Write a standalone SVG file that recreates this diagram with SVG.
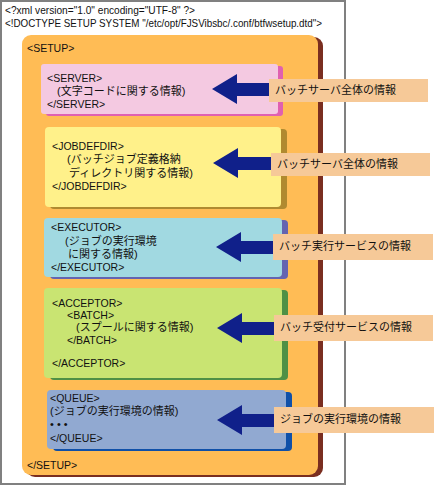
<svg xmlns="http://www.w3.org/2000/svg" xmlns:xlink="http://www.w3.org/1999/xlink" width="434" height="486" viewBox="0 0 434 486">
<style>
text{font-family:"Liberation Sans","Noto Sans CJK JP",sans-serif;font-size:11px;fill:#111}
.t{font-size:10.5px}
.lbl{fill:#F6C998}
.arrow{fill:#10208A}
</style>
<defs>
<path id="arr" d="M0,0 L25,-15 L25,-6 L60,-6 L60,7 L25,7 L25,15 Z"/>
</defs>
<rect x="1" y="1" width="344" height="483" fill="#fff" stroke="#808080" stroke-width="2"/>
<g id="header">
<text x="5" y="14" textLength="190" lengthAdjust="spacingAndGlyphs">&lt;?xml version="1.0" encoding="UTF-8" ?&gt;</text>
<text x="5" y="27" textLength="317" lengthAdjust="spacingAndGlyphs">&lt;!DOCTYPE SETUP SYSTEM "/etc/opt/FJSVibsbc/.conf/btfwsetup.dtd"&gt;</text>
</g>
<g id="setup">
<rect x="26" y="37" width="297" height="440" rx="9" fill="#7A2E20"/>
<rect x="22" y="35" width="296" height="440" rx="9" fill="#FFBC55"/>
<text class="t" x="27" y="52">&lt;SETUP&gt;</text>
<text class="t" x="27" y="469">&lt;/SETUP&gt;</text>
</g>
<g id="server">
<rect x="46" y="66" width="237" height="50" rx="3" fill="#E060B0"/>
<rect x="41" y="64" width="237" height="50" rx="3" fill="#F4C9E1"/>
<text class="t" x="47" y="82">&lt;SERVER&gt;</text>
<text x="57" y="95">(文字コードに関する情報)</text>
<text class="t" x="47" y="108">&lt;/SERVER&gt;</text>
</g>
<g id="jobdefdir">
<rect x="50" y="129" width="237" height="80" rx="4" fill="#B08A30"/>
<rect x="45" y="127" width="236" height="80" rx="4" fill="#FFF18A"/>
<text class="t" x="52" y="150">&lt;JOBDEFDIR&gt;</text>
<text x="67" y="163">(バッチジョブ定義格納</text>
<text x="69" y="177">ディレクトリ関する情報)</text>
<text class="t" x="52" y="190">&lt;/JOBDEFDIR&gt;</text>
</g>
<g id="executor">
<rect x="50" y="220" width="238" height="59" rx="4" fill="#6464B0"/>
<rect x="44" y="218" width="238" height="59" rx="4" fill="#A1D9E1"/>
<text class="t" x="51" y="231">&lt;EXECUTOR&gt;</text>
<text x="65" y="245">(ジョブの実行環境</text>
<text x="68" y="258">に関する情報)</text>
<text class="t" x="51" y="271">&lt;/EXECUTOR&gt;</text>
</g>
<g id="acceptor">
<rect x="50" y="290" width="238" height="90" rx="4" fill="#4F9045"/>
<rect x="44" y="288" width="238" height="90" rx="4" fill="#C9E472"/>
<text class="t" x="52" y="307">&lt;ACCEPTOR&gt;</text>
<text class="t" x="67" y="319">&lt;BATCH&gt;</text>
<text x="76" y="331">(スプールに関する情報)</text>
<text class="t" x="67" y="344">&lt;/BATCH&gt;</text>
<text class="t" x="52" y="367">&lt;/ACCEPTOR&gt;</text>
</g>
<g id="queue">
<rect x="53" y="392" width="239" height="59" rx="4" fill="#1050A8"/>
<rect x="47" y="390" width="239" height="59" rx="4" fill="#91A9D1"/>
<text class="t" x="50" y="402">&lt;QUEUE&gt;</text>
<text x="50" y="415">(ジョブの実行環境の情報)</text>
<text x="50" y="428">• • •</text>
<text class="t" x="50" y="442">&lt;/QUEUE&gt;</text>
</g>
<g id="connectors">
<use xlink:href="#arr" class="arrow" x="212" y="89"/>
<use xlink:href="#arr" class="arrow" x="213" y="163"/>
<use xlink:href="#arr" class="arrow" x="216" y="247"/>
<use xlink:href="#arr" class="arrow" x="217" y="328"/>
<use xlink:href="#arr" class="arrow" x="217" y="420"/>
</g>
<g id="label1">
<rect class="lbl" x="269" y="79" width="159" height="23"/>
<text x="275" y="94">バッチサーバ全体の情報</text>
</g>
<g id="label2">
<rect class="lbl" x="271" y="153" width="159" height="23"/>
<text x="277" y="168">バッチサーバ全体の情報</text>
</g>
<g id="label3">
<rect class="lbl" x="273" y="234" width="160" height="26"/>
<text x="279" y="250">バッチ実行サービスの情報</text>
</g>
<g id="label4">
<rect class="lbl" x="274" y="315" width="159" height="26"/>
<text x="280" y="331">バッチ受付サービスの情報</text>
</g>
<g id="label5">
<rect class="lbl" x="274" y="407" width="160" height="26"/>
<text x="280" y="423">ジョブの実行環境の情報</text>
</g>
</svg>
